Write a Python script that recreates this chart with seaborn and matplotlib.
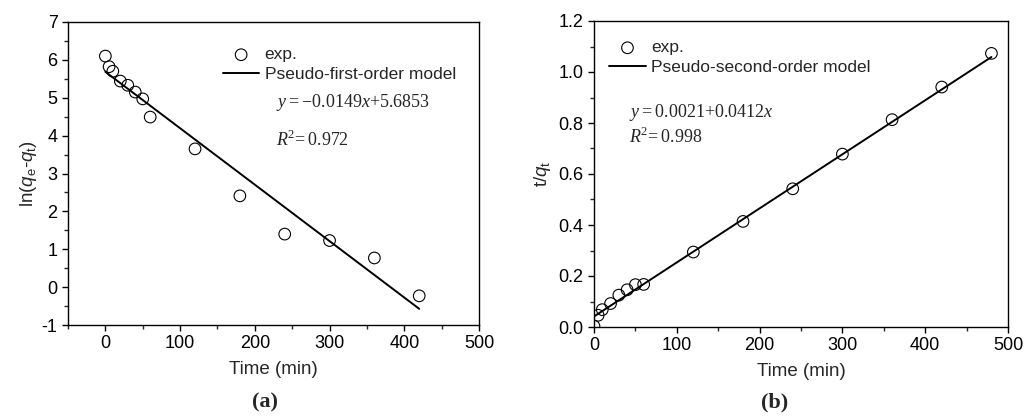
import numpy as np
import pandas as pd
import matplotlib
matplotlib.use("Agg")
import matplotlib.pyplot as plt
from matplotlib.ticker import MultipleLocator, FormatStrFormatter
import seaborn as sns

# ---- data ----
time_a = [0, 5, 10, 20, 30, 40, 50, 60, 120, 180, 240, 300, 360, 420]
ln_qe_qt = [6.10, 5.82, 5.70, 5.44, 5.33, 5.15, 4.97, 4.49, 3.65, 2.41, 1.40, 1.23, 0.77, -0.23]
fit_a_slope, fit_a_intercept = -0.0149, 5.6853
fit_a_x = [0, 420]

time_b = [0, 5, 10, 20, 30, 40, 50, 60, 120, 180, 240, 300, 360, 420, 480]
t_over_qt = [0.003, 0.046, 0.068, 0.092, 0.125, 0.146, 0.166, 0.167, 0.294, 0.414, 0.542, 0.678, 0.813, 0.941, 1.073]
fit_b_slope, fit_b_intercept = 0.00212, 0.0412
fit_b_x = [0, 480]

sns.set_style("ticks")
plt.rcParams['font.family'] = ['Liberation Sans', 'DejaVu Sans']
plt.rcParams['axes.unicode_minus'] = False
plt.rcParams['mathtext.fontset'] = 'custom'
plt.rcParams['mathtext.rm'] = 'Liberation Sans'
plt.rcParams['mathtext.it'] = 'Liberation Sans:italic'
plt.rcParams['mathtext.sf'] = 'Liberation Serif:italic'
plt.rcParams['mathtext.tt'] = 'Liberation Serif'
plt.rcParams['mathtext.bf'] = 'Liberation Serif:bold'

fig = plt.figure(figsize=(10.24, 4.2), dpi=100)
W, H = 1024, 420

def px_axes(l, t, r, b):
    return fig.add_axes([l / W, (H - b) / H, (r - l) / W, (b - t) / H])

ax1 = px_axes(68, 22, 479, 325)
ax2 = px_axes(594, 21, 1008, 327)

def style(ax):
    for s in ax.spines.values():
        s.set_visible(True)
        s.set_linewidth(1.0)
        s.set_color('black')
    ax.tick_params(which='major', direction='out', length=4, width=1, labelsize=13, colors='black')
    ax.tick_params(which='minor', direction='out', length=3, width=1)
    ax.tick_params(top=False, right=False, which='both')

df_a = pd.DataFrame({'t': time_a, 'y': ln_qe_qt})
fa = pd.DataFrame({'t': fit_a_x, 'y': [fit_a_slope * x + fit_a_intercept for x in fit_a_x]})
sns.scatterplot(data=df_a, x='t', y='y', ax=ax1, marker='o', s=70, facecolor='none',
                edgecolor='black', linewidth=0.8, label='exp.', zorder=3)
sns.lineplot(data=fa, x='t', y='y', ax=ax1, color='black', linewidth=1.4,
             label='Pseudo-first-order model')
ax1.set_xlim(-50, 500)
ax1.set_ylim(-1, 7)
ax1.xaxis.set_major_locator(MultipleLocator(100))
ax1.xaxis.set_minor_locator(MultipleLocator(50))
ax1.yaxis.set_major_locator(MultipleLocator(1))
ax1.yaxis.set_minor_locator(MultipleLocator(0.5))
ax1.set_xlabel('Time (min)', fontsize=13.5, labelpad=6)
ax1.set_ylabel(r'ln($q_\mathregular{e}$-$q_\mathregular{t}$)', fontsize=13.5, labelpad=2)
style(ax1)
ax1.legend(loc='upper left', bbox_to_anchor=(0.36, 0.94), frameon=False, fontsize=12.5,
           handlelength=2.1, handletextpad=0.3, labelspacing=0.25, borderaxespad=0)
ax1.text(0.505, 0.735, r'$\mathsf{y}\mathtt{{=}{-}0.0149}\mathsf{x}\mathtt{{+}5.6853}$', transform=ax1.transAxes,
         fontsize=13, va='center', ha='left')
ax1.text(0.505, 0.612, r'$\mathsf{R}^{\mathtt{2}}\!\mathtt{{=}0.972}$', transform=ax1.transAxes,
         fontsize=13, va='center', ha='left')

df_b = pd.DataFrame({'t': time_b, 'y': t_over_qt})
fb = pd.DataFrame({'t': fit_b_x, 'y': [fit_b_slope * x + fit_b_intercept for x in fit_b_x]})
sns.scatterplot(data=df_b, x='t', y='y', ax=ax2, marker='o', s=70, facecolor='none',
                edgecolor='black', linewidth=0.8, label='exp.', zorder=3)
sns.lineplot(data=fb, x='t', y='y', ax=ax2, color='black', linewidth=1.4,
             label='Pseudo-second-order model')
ax2.set_xlim(0, 500)
ax2.set_ylim(0, 1.2)
ax2.xaxis.set_major_locator(MultipleLocator(100))
ax2.xaxis.set_minor_locator(MultipleLocator(50))
ax2.yaxis.set_major_locator(MultipleLocator(0.2))
ax2.yaxis.set_minor_locator(MultipleLocator(0.1))
ax2.yaxis.set_major_formatter(FormatStrFormatter('%.1f'))
ax2.set_xlabel('Time (min)', fontsize=13.5, labelpad=6)
ax2.set_ylabel(r't/$q_\mathregular{t}$', fontsize=13.5, labelpad=4)
style(ax2)
ax2.legend(loc='upper left', bbox_to_anchor=(0.02, 0.96), frameon=False, fontsize=12.5,
           handlelength=2.1, handletextpad=0.3, labelspacing=0.25, borderaxespad=0)
ax2.text(0.085, 0.7, r'$\mathsf{y}\mathtt{{=}0.0021{+}0.0412}\mathsf{x}$', transform=ax2.transAxes,
         fontsize=13, va='center', ha='left')
ax2.text(0.085, 0.62, r'$\mathsf{R}^{\mathtt{2}}\!\mathtt{{=}0.998}$', transform=ax2.transAxes,
         fontsize=13, va='center', ha='left')

fig.text(265 / W, 1 - 402 / H, '(a)', fontsize=16, fontweight='bold', ha='center', va='center',
         family='Liberation Serif')
fig.text(775 / W, 1 - 402 / H, '(b)', fontsize=16, fontweight='bold', ha='center', va='center',
         family='Liberation Serif')

fig.savefig('out.png', dpi=100)
